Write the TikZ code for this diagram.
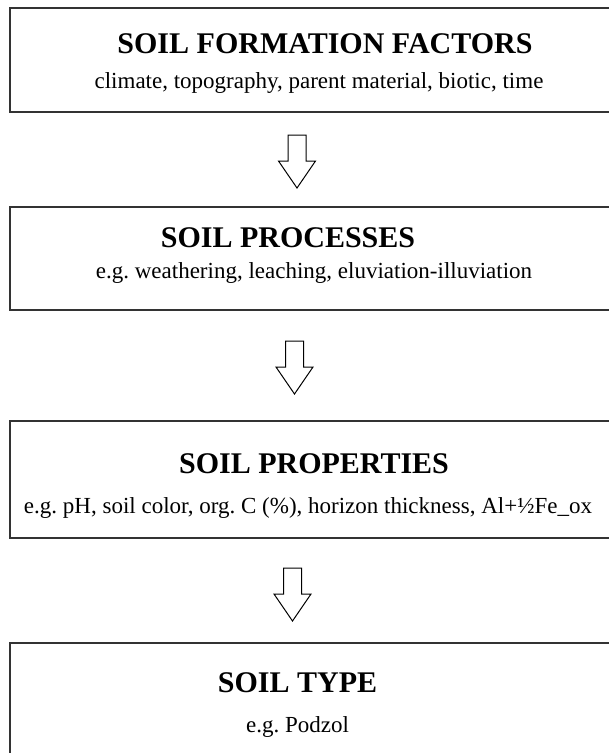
\documentclass[tikz,border=0pt]{standalone}
\usepackage{fontspec}
\setmainfont{Liberation Serif}
\usepackage{tikz}
\usetikzlibrary{calc}
\frenchspacing

\tikzset{
  soilbox/.style={draw=black!80, line width=1.5pt, minimum width=610pt, inner sep=0pt},
  boxtitle/.style={anchor=base, inner sep=0pt, font=\fontsize{30}{31}\selectfont\bfseries},
  boxtext/.style={anchor=base, inner sep=0pt, font=\fontsize{23}{24}\selectfont},
  hollow/.style={draw=black, line width=1pt, fill=white, line join=miter}
}

\begin{document}
\begin{tikzpicture}[x=1pt,y=1pt]
             \useasboundingbox[fill=white] (0,0) rectangle (609,-753);
             \clip (0,0) rectangle (609,-753);

             % boxes
             \node[soilbox, minimum height=104pt] (factors) at (315,-60) {};
             \node[soilbox, minimum height=103pt] (processes) at (315,-258.5) {};
             \node[soilbox, minimum height=117pt] (properties) at (315,-479.5) {};
             \node[soilbox, minimum height=127pt] (type) at (315,-706.5) {};

             % texts
             \node[boxtitle] (factorstitle) at (325,-53) {SOIL FORMATION FACTORS};
             \node[boxtext] (factorstext) at (319,-88) {climate, topography, parent material, biotic, time};
             \node[boxtitle] (processestitle) at (288,-247) {SOIL PROCESSES};
             \node[boxtext] (processestext) at (314,-278) {e.g. weathering, leaching, eluviation-illuviation};
             \node[boxtitle] (propertiestitle) at (314,-473) {SOIL PROPERTIES};
             \node[boxtext] (propertiestext) at (308,-513) {e.g. pH, soil color, org. C (\%), horizon thickness, Al+½Fe\_ox};
             \node[boxtitle] (typetitle) at (297.5,-692) {SOIL TYPE};
             \node[boxtext] (typetext) at (297.5,-732) {e.g. Podzol};

             % hollow arrows
             \foreach \n/\x/\y in {arr1/297/135, arr2/294.5/341, arr3/292.5/568} {
               \coordinate (\n) at (\x,-\y);
               \draw[hollow] (\n) +(-9,0) -- +(9,0) -- +(9,-26) -- +(18.5,-26) -- +(0,-53) -- +(-18.5,-26) -- +(-9,-26) -- cycle;
             }
\end{tikzpicture}
\end{document}
